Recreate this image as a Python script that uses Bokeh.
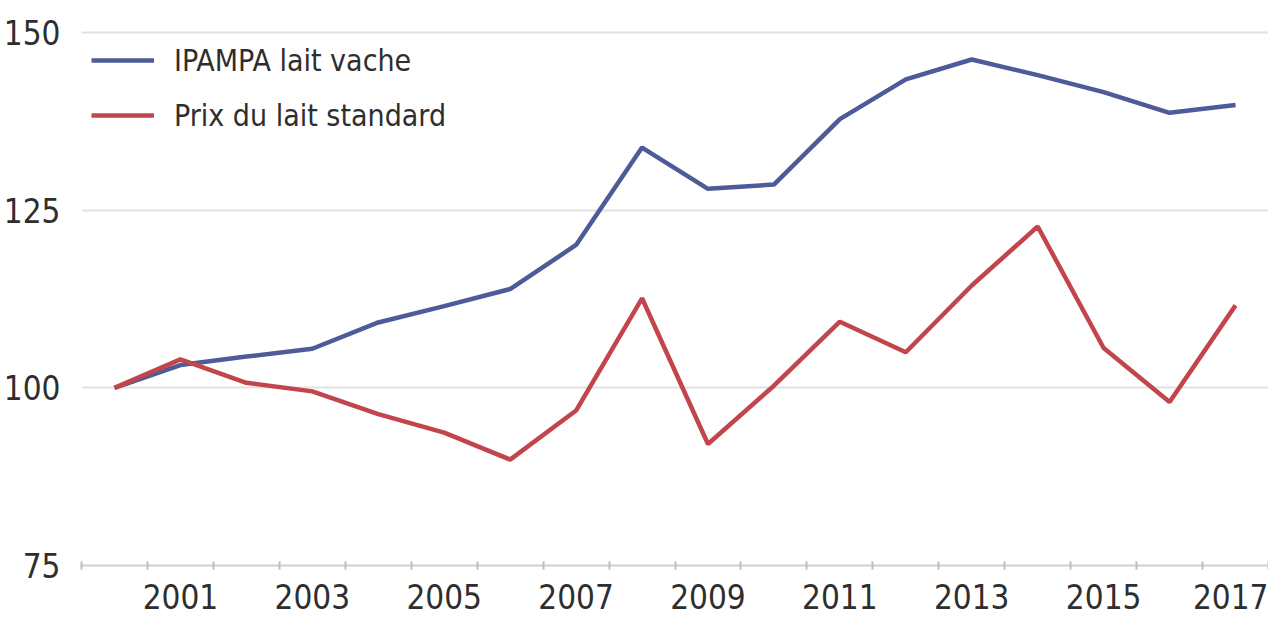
from bokeh.plotting import figure
from bokeh.models import Range1d, FixedTicker, Legend, LegendItem
from bokeh.embed import file_html
from bokeh.resources import INLINE

# ---- data ----
years = list(range(2000, 2018))
ipampa = [100, 103.2, 104.4, 105.5, 109.2, 111.5, 113.9, 120.1, 133.8, 128.0,
          128.6, 137.8, 143.4, 146.2, 144.0, 141.6, 138.7, 139.8]
prix = [100, 104.0, 100.7, 99.5, 96.3, 93.7, 89.9, 96.8, 112.6, 92.1,
        100.3, 109.3, 105.0, 114.4, 122.7, 105.6, 98.0, 111.6]
series_names = ["IPAMPA lait vache", "Prix du lait standard"]
y_ticks = [75, 100, 125, 150]
x_label_years = [2001, 2003, 2005, 2007, 2009, 2011, 2013, 2015, 2017]

FONT = "'DejaVu Sans Condensed', Roboto, sans-serif"
TEXT = "#2e2e2e"

p = figure(width=1268, height=620, output_backend="svg", toolbar_location=None,
           x_range=Range1d(1999.5, 2017.5), y_range=Range1d(75, 154.5),
           min_border_left=80, min_border_right=0, min_border_top=0,
           min_border_bottom=55)
p.outline_line_color = None
p.background_fill_color = "white"

r1 = p.line(years, ipampa, line_color="#4f5a98", line_width=4.5)
r2 = p.line(years, prix, line_color="#c2454b", line_width=4.5)

legend = Legend(items=[LegendItem(label=series_names[0], renderers=[r1]),
                       LegendItem(label=series_names[1], renderers=[r2])],
                location=(10, 425))
legend.label_text_font = FONT
legend.label_text_font_size = "30px"
legend.label_text_color = TEXT
legend.label_height = 50
legend.glyph_height = 50
legend.glyph_width = 63
legend.label_standoff = 20
legend.spacing = 5
legend.padding = 0
legend.margin = 0
legend.background_fill_alpha = 0
legend.border_line_color = None
p.add_layout(legend)

# grid
p.xgrid.visible = False
p.ygrid.ticker = y_ticks
p.ygrid.grid_line_color = "#e2e2e2"
p.ygrid.grid_line_width = 2

# y axis
p.yaxis.ticker = y_ticks
p.yaxis.axis_line_color = None
p.yaxis.major_tick_line_color = None
p.yaxis.minor_tick_line_color = None
p.yaxis.major_label_standoff = 15
p.yaxis.major_label_text_font = FONT
p.yaxis.major_label_text_font_size = "33px"
p.yaxis.major_label_text_color = TEXT

# x axis
p.xaxis.ticker = FixedTicker(ticks=x_label_years,
                             minor_ticks=[y - 0.5 for y in years] + [years[-1] + 0.5])
p.xaxis.axis_line_color = "#cfcfcf"
p.xaxis.axis_line_width = 2
p.xaxis.major_tick_line_color = None
p.xaxis.minor_tick_line_color = "#bdbdbd"
p.xaxis.minor_tick_line_width = 2
p.xaxis.minor_tick_in = 4
p.xaxis.minor_tick_out = 4
p.xaxis.major_label_standoff = 12
p.xaxis.major_label_text_font = FONT
p.xaxis.major_label_text_font_size = "33px"
p.xaxis.major_label_text_color = TEXT

open("out.html", "w").write(file_html(p, INLINE))
